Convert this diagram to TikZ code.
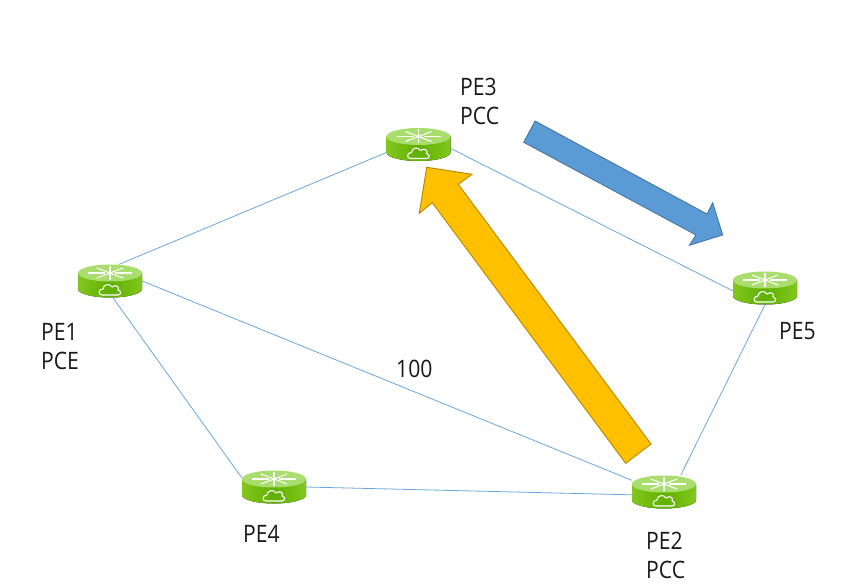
\documentclass[tikz,border=0pt]{standalone}
\usepackage{fontspec}
\setmainfont{Open Sans}[FakeStretch = 0.88]
\definecolor{linkblue}{HTML}{6AA5DC}
\definecolor{bluearrow}{HTML}{5B9BD5}
\definecolor{bluearrowline}{HTML}{41719C}
\definecolor{yellowarrow}{HTML}{FFC000}
\definecolor{yellowarrowline}{HTML}{BC8C00}
\definecolor{bodylight}{HTML}{5FB000}
\definecolor{bodydark}{HTML}{82C71E}
\definecolor{toplight}{HTML}{A9DE6E}
\tikzset{
	router/.style = {rectangle, minimum width = 64pt, minimum height = 33pt, inner sep = 0pt},
	link/.style = {draw = linkblue, line width = 0.8pt},
	label/.style = {align = left, font = \fontsize{24}{29}\selectfont, inner sep = 0pt, text = black!90},
	blockblue/.style = {draw = bluearrowline, fill = bluearrow, line width = 0.8pt},
	blockyellow/.style = {draw = yellowarrowline, fill = yellowarrow, line width = 1pt},
	glyph/.style = {white, line width = 1.1pt}
}
% one router drawn on top of its named node
\newcommand{\routerart}[1]{
	\begin{scope}[shift = {(#1.center)}]
		\fill [left color = bodydark, right color = bodydark, middle color = bodylight]
			(-32,-8) -- (-32,8) arc [start angle = 180, end angle = 0, x radius = 32, y radius = 8.5] -- (32,-8) -- cycle;
		\fill [toplight] (0,-8) ellipse [x radius = 32, y radius = 8.5];
		\draw [glyph] (-22,-8) -- (-5,-8) (5,-8) -- (22,-8) (0,-15) -- (0,-1);
		\draw [glyph] (-13,-13) -- (13,-3) (13,-13) -- (-13,-3);
		\draw [glyph, line join = round]
			(-8,14) .. controls (-12,14) and (-12,8) .. (-7,8)
			.. controls (-7,3) and (0,2) .. (2,6)
			.. controls (6,3) and (10,6) .. (8,9)
			.. controls (12,10) and (11,14) .. (8,14) -- cycle;
	\end{scope}
}
\begin{document}
\begin{tikzpicture}[x = 1pt, y = -1pt]
	\useasboundingbox (0,0) rectangle (841,588);
	\node (pe3)[router] at (418.5,144.5) {};
	\node (pe1)[router] at (110,281) {};
	\node (pe5)[router] at (765,288) {};
	\node (pe4)[router] at (274,487) {};
	\node (pe2)[router] at (664,492) {};

	\draw [link] (pe1.61) -- (pe3.194);
	\draw [link] (pe3.-7) -- (pe5.185);
	\draw [link] (pe1.east) -- (pe2.160);
	\draw [link] (pe1.-80) -- (pe4.164);
	\draw [link] (pe4.east) -- (pe2.185);
	\draw [link] (pe5.south) -- (pe2.45);

	\foreach \name in {pe1, pe2, pe3, pe4, pe5} {
		\routerart{\name}
	}

	\draw [blockblue] (535,121) -- (707,214) -- (712.7,202.7) -- (722.7,235) -- (689.3,245.3) -- (696,235) -- (523.7,142.3) -- cycle;
	\draw [blockyellow] (426.7,167.3) -- (472,174.3) -- (458.3,184.3) -- (651,444) -- (625.7,463.3) -- (432.3,202.7) -- (419.3,213.3) -- cycle;

	\node (pe3text)[label, anchor = north west] at (460,78) {PE3\\PCC};
	\node (pe1text)[label, anchor = north west] at (41,323) {PE1\\PCE};
	\node (pe5text)[label, anchor = north west] at (779,322) {PE5};
	\node (pe4text)[label, anchor = north west] at (243,525) {PE4};
	\node (pe2text)[label, anchor = north west] at (646,532) {PE2\\PCC};
	\node (cost)[label, anchor = north west] at (396,360) {100};
\end{tikzpicture}
\end{document}
